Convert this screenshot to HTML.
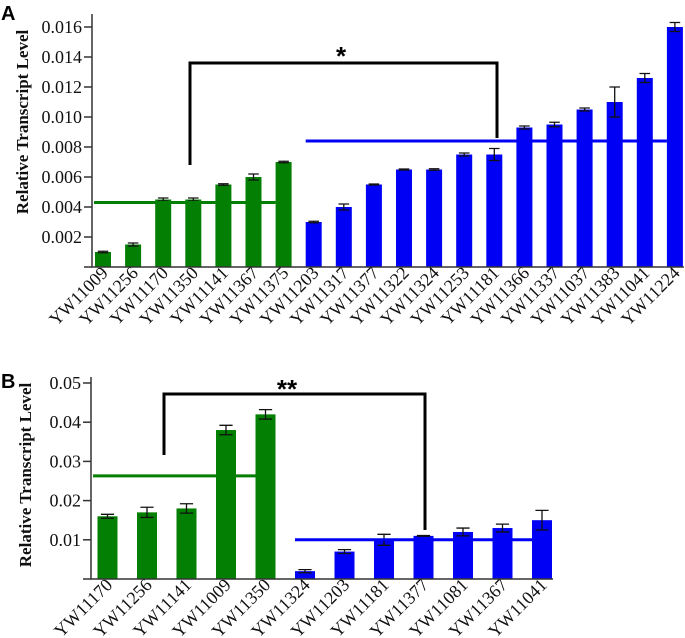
<!DOCTYPE html>
<html><head><meta charset="utf-8"><style>
body{margin:0;background:#fff;width:685px;height:638px;overflow:hidden}
svg{display:block;font-family:"Liberation Serif",serif}
</style></head><body>
<svg id="s" width="685" height="638">
<text x="1" y="20" font-family="Liberation Sans,sans-serif" font-weight="bold" font-size="20">A</text>
<text x="1" y="388" font-family="Liberation Sans,sans-serif" font-weight="bold" font-size="20">B</text>
</svg>
<script>
const catsA=["YW11009","YW11256","YW11170","YW11350","YW11141","YW11367","YW11375","YW11203","YW11317","YW11377","YW11322","YW11324","YW11253","YW11181","YW11366","YW11337","YW11037","YW11383","YW11041","YW11224"];
const valsA=[0.001,0.0015,0.0045,0.0045,0.0055,0.006,0.007,0.003,0.004,0.0055,0.0065,0.0065,0.0075,0.0075,0.0093,0.0095,0.0105,0.011,0.0126,0.016];
const errsA=[0.00005,0.0001,0.0001,0.0001,0.00005,0.0002,0.00005,0.00005,0.0002,0.00003,0.00003,0.00005,0.0001,0.0004,0.0001,0.00015,0.0001,0.001,0.0003,0.0003];
const groupsA=[0,0,0,0,0,0,0,1,1,1,1,1,1,1,1,1,1,1,1,1];
const ticksA=[0.002,0.004,0.006,0.008,0.010,0.012,0.014,0.016];
const meansA=[0.0043,0.0084];
const catsB=["YW11170","YW11256","YW11141","YW11009","YW11350","YW11324","YW11203","YW11181","YW11377","YW11081","YW11367","YW11041"];
const valsB=[0.016,0.017,0.018,0.038,0.042,0.002,0.007,0.010,0.011,0.012,0.013,0.015];
const errsB=[0.0005,0.0013,0.0012,0.0012,0.0012,0.0004,0.0005,0.0014,0.0001,0.001,0.001,0.0025];
const groupsB=[0,0,0,0,0,1,1,1,1,1,1,1];
const ticksB=[0.01,0.02,0.03,0.04,0.05];
const meansB=[0.0263,0.010];
const NS="http://www.w3.org/2000/svg",svg=document.getElementById('s');
const cols=["#037f03","#0000f5"];
function el(t,a,p){const e=document.createElementNS(NS,t);for(const k in a)e.setAttribute(k,a[k]);(p||svg).appendChild(e);return e;}
function panel(o){
 const g=el('g',{});
 
 
 const y=v=>o.y0-v*o.k;
 const x=i=>o.x0+i*o.step;
 const n=o.cats.length;
 o.vals.forEach((v,i)=>{
  const r=el('rect',{x:x(i)-o.bw/2,y:y(v),width:o.bw,height:o.y0-y(v),fill:cols[o.groups[i]]},g);
  
  
  const e=o.errs[i],cx=x(i),cw=o.bw*0.33;
  const eb=el('path',{d:`M${cx} ${y(v+e)}V${y(v-e)}M${cx-cw} ${y(v+e)}H${cx+cw}M${cx-cw} ${y(v-e)}H${cx+cw}`,stroke:'#111','stroke-width':1.3,fill:'none'},g);
  
  
  const t=el('text',{x:0,y:0,'font-size':o.fs,'text-anchor':'end',transform:`translate(${cx+6},${o.y0+o.lab}) rotate(-45)`,fill:'#111'},g);
  t.textContent=o.cats[i];
  
  
 });
 o.means.forEach((m,gi)=>{
  const idx=o.groups.map((gg,i)=>gg===gi?i:-1).filter(i=>i>=0);
  const x1=gi===0?o.axX+2:x(idx[0])-o.bw/2, x2=x(idx[idx.length-1])-o.bw/2;
  const l=el('line',{x1:x1,x2:x2,y1:y(m),y2:y(m),stroke:cols[gi],'stroke-width':3},g);
  
  
 });
 const ax=el('path',{d:`M${o.axX} ${o.top}V${o.y0}H${x(n-1)+o.bw/2+1}`,stroke:'#333','stroke-width':1.5,fill:'none'},g);
 
 
 o.ticks.forEach(t=>{
  el('line',{x1:o.axX-8,x2:o.axX,y1:y(t),y2:y(t),stroke:'#333','stroke-width':1.5},g);
  const tt=el('text',{x:o.axX-10,y:y(t)+6,'font-size':o.tfs,'text-anchor':'end',fill:'#111'},g);
  tt.textContent=o.tfmt(t);
  
  
 });
 el('line',{x1:o.axX-8,x2:o.axX,y1:o.y0,y2:o.y0,stroke:'#333','stroke-width':1.5},g);
 const yt=el('text',{x:0,y:0,'font-size':17,'font-weight':'bold','text-anchor':'middle',transform:`translate(${o.ytx},${o.yty}) rotate(-90)`,fill:'#111'},g);
 yt.textContent='Relative Transcript Level';
 
 
 const b=o.br;
 const br=el('path',{d:`M${b[0]} ${b[2]}V${b[1]}H${b[3]}V${b[4]}`,stroke:'#000','stroke-width':3,fill:'none'},g);
 
 
 const st=el('text',{x:o.starX,y:b[1]+o.starDy,'font-size':26,'font-weight':'bold','text-anchor':'middle','font-family':'Liberation Sans,sans-serif'},g);
 st.textContent=o.star;
 
 
}
panel({name:'chart-a',cats:catsA,vals:valsA,errs:errsA,groups:groupsA,ticks:ticksA,means:meansA,y0:267,k:15000,x0:103,step:30.1,bw:16,axX:92,top:14,fs:18,tfs:18,lab:7,tfmt:t=>t.toFixed(3),ytx:28,yty:122,br:[190,63,165,497,138],starX:341,star:'*',starDy:2});
panel({name:'chart-b',cats:catsB,vals:valsB,errs:errsB,groups:groupsB,ticks:ticksB,means:meansB,y0:579,k:3920,x0:107.5,step:39.5,bw:20,axX:91,top:377,fs:18,tfs:18,lab:7,tfmt:t=>t.toFixed(2),ytx:31,yty:475,br:[164,394,455,425,530],starX:287,star:'**',starDy:4});
</script>
</body></html>
